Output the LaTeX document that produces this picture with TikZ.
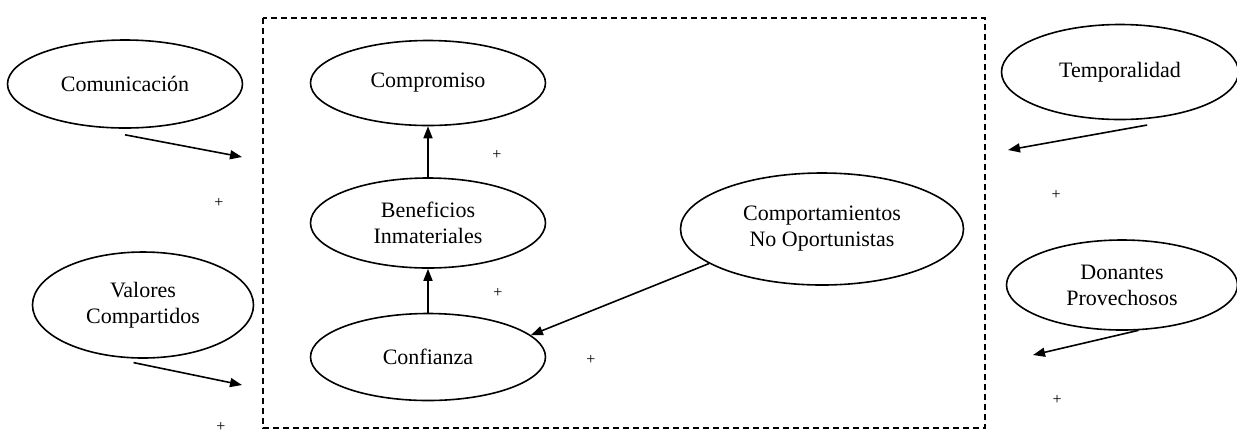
\documentclass[tikz,border=0pt]{standalone}
\usepackage{fontspec}
\setmainfont{Liberation Serif}
\usetikzlibrary{shapes.geometric,arrows.meta}

\begin{document}
\begin{tikzpicture}[x=0.5pt,y=-0.5pt,
    concepto/.style={draw,line width=.8pt,ellipse,inner sep=0pt,align=center,font=\fontsize{11}{13}\selectfont},
    flecha/.style={line width=.8pt,-{Triangle[length=6pt,width=4.5pt]}},
    signo/.style={font=\footnotesize,inner sep=0pt}]
    \useasboundingbox (0,0) rectangle (1237,436);
    \draw[line width=.7pt,dash pattern=on 3pt off 2pt] (263,18) rectangle (985,428);

    % constructos
    \node[concepto,minimum width=117.5pt,minimum height=44pt] (com) at (125,84) {Comunicación};
    \node[concepto,minimum width=110.5pt,minimum height=53pt] (val) at (143,305) {Valores\\Compartidos};
    \node[concepto,minimum width=117.5pt,minimum height=42.5pt] (compr) at (428,83) {Compromiso};
    \node[concepto,minimum width=117.5pt,minimum height=45pt] (bene) at (428,223) {Beneficios\\Inmateriales};
    \node[concepto,minimum width=117.5pt,minimum height=43.5pt] (conf) at (428,357) {Confianza};
    \node[concepto,minimum width=141.5pt,minimum height=56pt] (comp) at (822,229) {Comportamientos\\No Oportunistas};
    \node[concepto,minimum width=118.5pt,minimum height=47.5pt] (temp) at (1120,72) {Temporalidad};
    \node[concepto,minimum width=115.5pt,minimum height=45pt] (don) at (1122,285) {Donantes\\Provechosos};

    \coordinate (c1) at (242,157);
    \coordinate (v1) at (242,385);
    \coordinate (t1) at (1008,150);
    \coordinate (d1) at (1033,355);

    \draw[flecha] ([yshift=-3pt]com.south) -- (c1);
    \draw[flecha] ([yshift=-2pt]val.-100) -- (v1);
    \draw[flecha] ([yshift=-3pt]temp.-60) -- (t1);
    \draw[flecha] (don.-70) -- (d1);
    \draw[flecha] (comp.197) -- (conf.12);
    \draw[flecha] (conf.north) -- (bene.south);
    \draw[flecha] (bene.north) -- (compr.south);

    \foreach \x/\y [count=\i] in {219/203,221/427,497/155,498/293,591/360,1056/195,1057/400}
        \node[signo] (s\i) at (\x,\y) {+};
\end{tikzpicture}
\end{document}
